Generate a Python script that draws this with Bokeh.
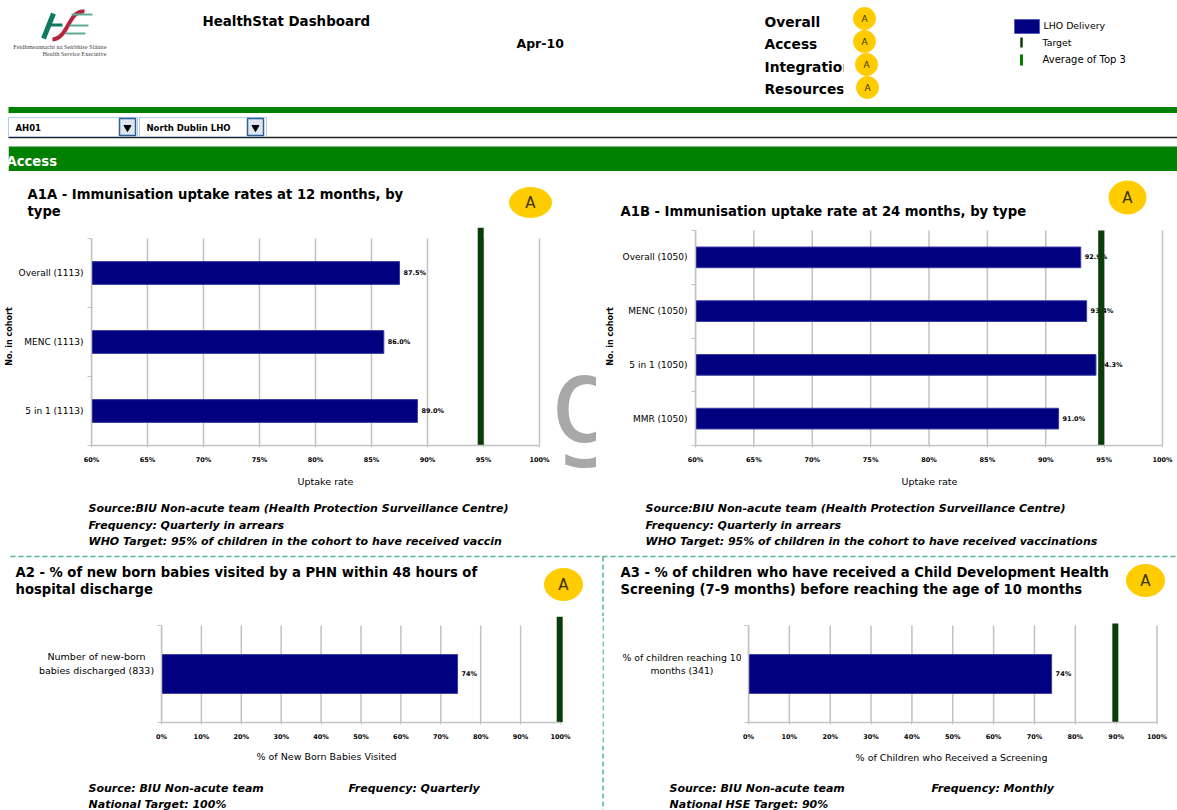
from bokeh.plotting import figure
from bokeh.layouts import column, row
from bokeh.models import Range1d, FixedTicker, PrintfTickFormatter, Spacer
from bokeh.core.properties import value
from bokeh.embed import file_html
from bokeh.resources import INLINE
import numpy as np

# ---------- data ----------
a1a_cats = ["Overall (1113)", "MENC (1113)", "5 in 1 (1113)"]
a1a_vals = [87.5, 86.1, 89.1]
a1a_text = ["87.5%", "86.0%", "89.0%"]
a1a_target = 94.75

a1b_cats = ["Overall (1050)", "MENC (1050)", "5 in 1 (1050)", "MMR (1050)"]
a1b_vals = [93.0, 93.5, 94.3, 91.1]
a1b_text = ["92.9%", "93.4%", "94.3%", "91.0%"]
a1b_target = 94.75

a2_cats = [" "]
a2_cat_lines = ["Number of new-born", "babies discharged (833)"]
a2_vals = [74.2]
a2_text = ["74%"]
a2_target = 99.8

a3_cats = [" "]
a3_cat_lines = ["% of children reaching 10", "months (341)"]
a3_vals = [74.2]
a3_text = ["74%"]
a3_target = 89.8

FONT = "DejaVu Sans"
NAVY = "#000080"
GREEN = "#008000"
TGT = "#0b3d0b"
GRID = "#c2c2c2"
YEL = "#FFCC00"
DASH = "#55b595"
TITLE = "13.2px"
NOTE = "11px"
AXT = "9.5px"


def canvas(x0, x1, y0, y1):
    p = figure(width=int(x1 - x0), height=int(y1 - y0), output_backend="svg", toolbar_location=None,
               x_range=Range1d(x0, x1), y_range=Range1d(y1, y0),
               x_axis_location=None, y_axis_location=None, min_border=0)
    p.grid.visible = False
    p.outline_line_color = None
    p.background_fill_color = "white"
    return p


def txt(p, x, y, s, size="11.5px", style="bold", color="black", align="left", font=FONT):
    p.text(x=[x], y=[y], text=[s], text_font=value(font), text_font_size=size, text_font_style=style,
           text_color=color, text_baseline="middle", text_align=align)


def badge(p, x, y, w, h, size):
    p.ellipse(x=[x], y=[y], width=[w], height=[h], fill_color=YEL, line_color=YEL)
    txt(p, x, y, "A", size=size, style="normal", color="#3a3200", align="center")


def chart(cats, vals, text, target, xmin, step, px0, px100, top_tick, frame_top, target_top, axis_y,
          cx0, cx1, cy0, cy1, bar_frac, ylabel=None, label_px="9px", standoff=4, title_standoff=2):
    n = len(cats)
    band = (axis_y - top_tick) / n
    xscale = (px100 - px0) / (100 - xmin)
    xend = 100 + (cx1 - px100) / xscale
    ymax = n + (top_tick - frame_top) / band
    ytarget = n + (top_tick - target_top) / band
    p = figure(width=int(cx1 - cx0), height=int(cy1 - cy0), output_backend="svg", toolbar_location=None,
               x_range=Range1d(xmin, xend), y_range=Range1d(0, ymax),
               min_border_left=int(px0 - cx0), min_border_right=0,
               min_border_top=int(frame_top - cy0), min_border_bottom=int(cy1 - axis_y))
    p.outline_line_color = None
    p.background_fill_color = "white"
    centers = [n - 0.5 - i for i in range(n)]
    edges = list(range(n + 1))
    xticks = [float(t) for t in np.arange(xmin, 100.1, step)]

    p.grid.visible = False
    p.segment(x0=xticks, x1=xticks, y0=0, y1=n, line_color=GRID, line_width=1.5, level="underlay")

    xa = p.xaxis[0]
    xa.ticker = FixedTicker(ticks=xticks)
    xa.bounds = (xmin, 100)
    xa.formatter = PrintfTickFormatter(format="%d%%")
    xa.axis_line_color = GRID
    xa.axis_line_width = 1.5
    xa.major_tick_line_color = GRID
    xa.major_tick_in = 0
    xa.major_tick_out = 2
    xa.minor_tick_line_color = None
    xa.major_label_text_font = FONT
    xa.major_label_text_font_size = "6.5px"
    xa.major_label_text_font_style = "bold"
    xa.major_label_text_color = "black"
    xa.major_label_standoff = 8

    ya = p.yaxis[0]
    ya.ticker = FixedTicker(ticks=centers, minor_ticks=edges)
    ya.bounds = (0, n)
    ya.axis_line_color = GRID
    ya.axis_line_width = 1.5
    ya.major_tick_line_color = None
    ya.major_tick_in = 0
    ya.major_tick_out = 0
    ya.minor_tick_line_color = GRID
    ya.minor_tick_in = 0
    ya.minor_tick_out = 4
    ya.major_label_text_font = FONT
    ya.major_label_text_font_size = label_px
    ya.major_label_text_color = "black"
    ya.major_label_standoff = standoff
    ya.major_label_overrides = {c: s for c, s in zip(centers, cats)}
    if ylabel:
        ya.axis_label = ylabel
        ya.axis_label_text_font = FONT
        ya.axis_label_text_font_size = "8px"
        ya.axis_label_text_font_style = "bold"
        ya.axis_label_text_color = "black"
        ya.axis_label_standoff = title_standoff

    p.hbar(y=centers, left=xmin, right=vals, height=bar_frac, fill_color=NAVY, line_color="#3a3aa0", line_width=1)
    p.text(x=vals, y=centers, text=text, x_offset=4, text_font=value(FONT), text_font_size="6.5px",
           text_font_style="bold", text_color="black", text_baseline="middle")
    p.segment(x0=[target], x1=[target], y0=[0], y1=[ytarget], line_color=TGT, line_width=6)
    return p


# ---------- header ----------
head = canvas(0, 1177, 0, 226)
# logo
head.line(x=[53, 43], y=[13, 38], line_color="#0f7a5f", line_width=5)
head.line(x=[47, 62], y=[24.5, 24.5], line_color="#0f7a5f", line_width=3)
head.bezier(x0=[84], y0=[11], x1=[52], y1=[39], cx0=[68], cy0=[9], cx1=[68], cy1=[38],
            line_color="#b5243c", line_width=4)
for xa_, xb_, y_ in [(71, 92, 14), (69, 88, 25), (65, 85, 33)]:
    head.line(x=[xa_, xb_], y=[y_, y_], line_color="#5dae94", line_width=2)
txt(head, 106, 46, "Feidhmeannacht na Seirbhíse Sláinte", size="6.3px", style="normal", color="#444444",
    align="right", font="Liberation Serif")
txt(head, 106, 53, "Health Service Executive", size="6.3px", style="normal", color="#444444",
    align="right", font="Liberation Serif")

txt(head, 202, 21, "HealthStat Dashboard", size="13.4px")
txt(head, 516, 43, "Apr-10", size="12.5px")

for s, y_ in [("Overall", 21), ("Access", 43), ("Integration", 66), ("Resources", 88)]:
    txt(head, 764, y_, s, size="13.8px")
head.quad(left=[843], right=[852], top=[58], bottom=[96], fill_color="white", line_color=None)
for x_, y_ in [(864, 18), (864, 41), (866, 64), (867, 87)]:
    badge(head, x_, y_, 22, 22, "9px")

# legend
head.quad(left=[1014], right=[1039], top=[19], bottom=[33], fill_color=NAVY, line_color="#5a5ac0")
txt(head, 1043, 25, "LHO Delivery", size="9.4px", style="normal")
head.line(x=[1021, 1021], y=[37, 47], line_color=TGT, line_width=2.5)
txt(head, 1042, 42, "Target", size="9.4px", style="normal")
head.line(x=[1021, 1021], y=[54, 65], line_color=GREEN, line_width=3)
txt(head, 1042, 59, "Average of Top 3", size="10px", style="normal")

# bars and selectors
head.quad(left=[8], right=[1177], top=[106.5], bottom=[112.5], fill_color=GREEN, line_color=None)
head.line(x=[8, 1177], y=[137, 137], line_color="#222222", line_width=1.5)
head.quad(left=[8], right=[1177], top=[146], bottom=[170.5], fill_color=GREEN, line_color=None)
txt(head, 6, 161, "Access", size="13.2px", color="white")
head.quad(left=[0], right=[8], top=[146], bottom=[170.5], fill_color="white", line_color=None)
for l_, r_, b_, s in [(8, 137, 119, "AH01"), (139, 266, 247, "North Dublin LHO")]:
    head.quad(left=[l_], right=[r_], top=[117], bottom=[136], fill_color="white", line_color="#b5cbe8")
    head.quad(left=[b_], right=[b_ + 16], top=[118], bottom=[135], fill_color="#dfe6f2", line_color="#2f5f96", line_width=1.5)
    head.scatter(x=[b_ + 8], y=[127], marker="inverted_triangle", size=7, fill_color="black", line_color="black")
    txt(head, l_ + 7, 127, s, size="8.5px", style="bold")

txt(head, 27, 194, "A1A - Immunisation uptake rates at 12 months, by", size=TITLE)
txt(head, 27, 211, "type", size=TITLE)
txt(head, 620, 211, "A1B - Immunisation uptake rate at 24 months, by type", size=TITLE)
badge(head, 530, 202, 42, 30, "15px")
badge(head, 1127, 197, 37, 33, "15px")

# ---------- A1A / A1B ----------
c1 = chart(a1a_cats, a1a_vals, a1a_text, a1a_target, 60, 5, 91, 539, 238, 227, 227, 445,
           0, 552, 226, 470, 0.33, "No. in cohort")
# stray letter cut off at the panel edge, as in the source dashboard
glyph = canvas(552, 596, 227, 470)
glyph.text(x=[550], y=[400], text=["g"], text_font=value(FONT), text_font_size="122px",
           text_color="#a8a8a8", text_baseline="alphabetic")
glyph_col = column(Spacer(width=44, height=1), glyph, spacing=0)
c2 = chart(a1b_cats, a1b_vals, a1b_text, a1b_target, 60, 5, 695, 1162, 230, 227, 230, 445,
           596, 1177, 226, 470, 0.385, "No. in cohort", title_standoff=5)

# ---------- middle band ----------
mid = canvas(0, 1177, 470, 616)
txt(mid, 325, 481, "Uptake rate", size=AXT, style="normal", align="center")
txt(mid, 929, 481, "Uptake rate", size=AXT, style="normal", align="center")
for x_, lines in [(88, ["Source:BIU Non-acute team (Health Protection Surveillance Centre)",
                        "Frequency: Quarterly in arrears",
                        "WHO Target: 95% of children in the cohort to have received vaccin"]),
                  (645, ["Source:BIU Non-acute team (Health Protection Surveillance Centre)",
                         "Frequency: Quarterly in arrears",
                         "WHO Target: 95% of children in the cohort to have received vaccinations"])]:
    for y_, s in zip([508, 525, 541], lines):
        txt(mid, x_, y_, s, size=NOTE, style="bold italic")
mid.line(x=[10, 1177], y=[556, 556], line_color=DASH, line_width=1.5, line_dash="5 3")
mid.line(x=[602.5, 602.5], y=[556, 616], line_color=DASH, line_width=1.5, line_dash="5 3")
txt(mid, 15, 572, "A2 - % of new born babies visited by a PHN within 48 hours of", size=TITLE)
txt(mid, 15, 589, "hospital discharge", size=TITLE)
txt(mid, 620, 572, "A3 - % of children who have received a Child Development Health", size=TITLE)
txt(mid, 620, 589, "Screening (7-9 months) before reaching the age of 10 months", size=TITLE)
badge(mid, 563, 584, 38, 32, "15px")
badge(mid, 1145, 580, 38, 32, "15px")

# ---------- A2 / A3 ----------
left2 = canvas(0, 154, 616, 745)
for s, y_ in zip(a2_cat_lines, [665, 682]):
    txt(left2, 96, y_, s, size=AXT, style="normal", align="center")
c3 = chart(a2_cats, a2_vals, a2_text, a2_target, 0, 10, 161, 560, 625, 616, 616, 722,
           154, 602, 616, 745, 0.4, label_px="1px", standoff=0)
sep = canvas(602, 604, 617, 745)
sep.line(x=[602.5, 602.5], y=[617, 745], line_color=DASH, line_width=1.5, line_dash="5 3")
sep_col = column(Spacer(width=2, height=1), sep, spacing=0)
left3 = canvas(604, 741, 616, 745)
for s, y_ in zip(a3_cat_lines, [666, 682]):
    txt(left3, 681.5, y_, s, size="9.3px", style="normal", align="center")
c4 = chart(a3_cats, a3_vals, a3_text, a3_target, 0, 10, 748, 1156.5, 625, 616, 623, 722,
           741, 1177, 616, 745, 0.4, label_px="1px", standoff=0)

# ---------- footer ----------
foot = canvas(0, 1177, 745, 810)
foot.line(x=[602.5, 602.5], y=[745, 810], line_color=DASH, line_width=1.5, line_dash="5 3")
txt(foot, 326, 756, "% of New Born Babies Visited", size=AXT, style="normal", align="center")
txt(foot, 951, 757, "% of Children who Received a Screening", size=AXT, style="normal", align="center")
for x_, y_, s in [(88, 788, "Source: BIU Non-acute team"), (348, 788, "Frequency: Quarterly"),
                  (88, 804, "National Target: 100%"), (669, 788, "Source: BIU Non-acute team"),
                  (931, 788, "Frequency: Monthly"), (669, 804, "National HSE Target: 90%")]:
    txt(foot, x_, y_, s, size=NOTE, style="bold italic")

page = column(head, row(c1, glyph_col, c2), mid, row(left2, c3, sep_col, left3, c4), foot, spacing=0)
open("out.html", "w").write(file_html(page, INLINE))
